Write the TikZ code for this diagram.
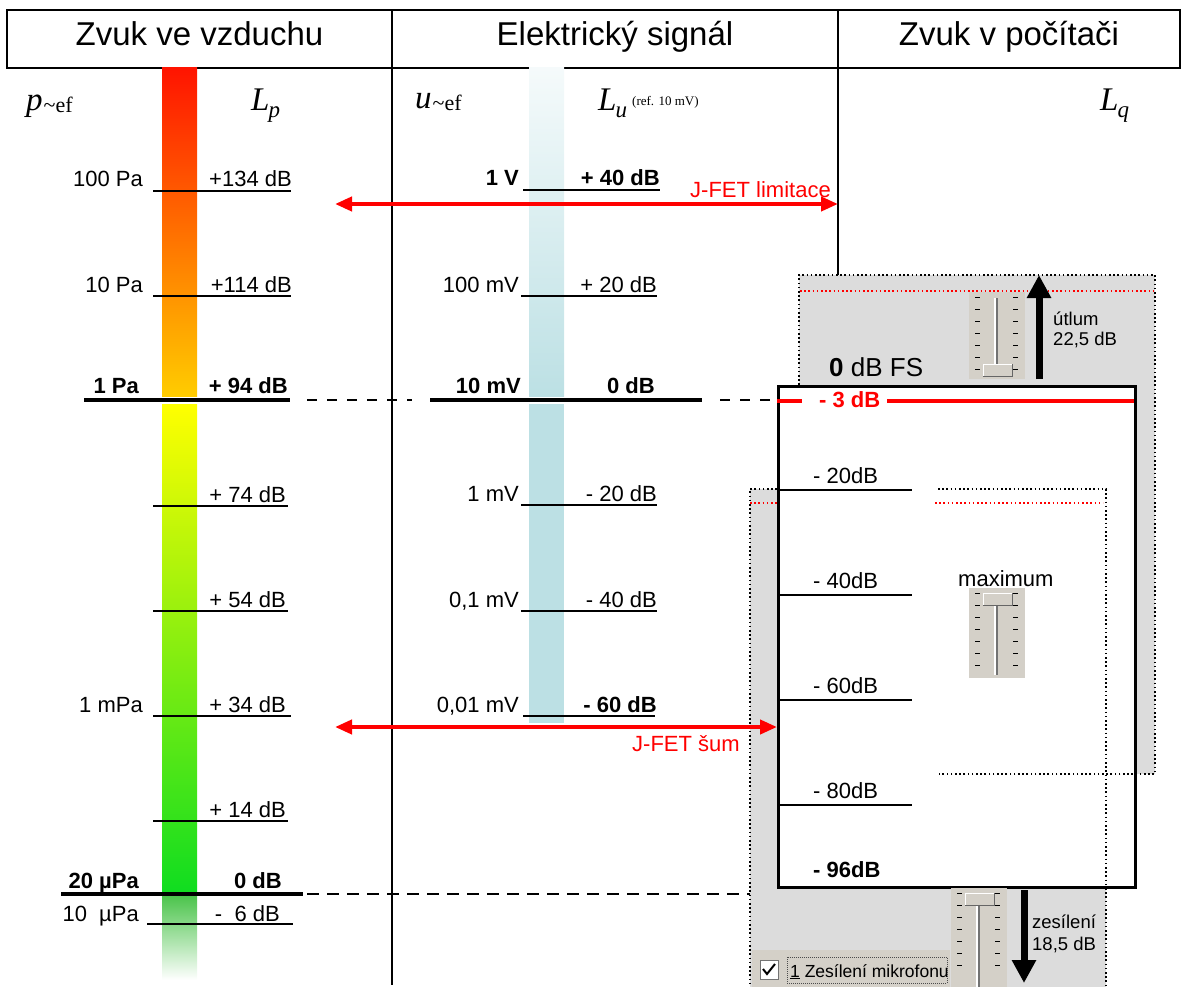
\documentclass[tikz,border=0pt]{standalone}
\usepackage{fontspec}
\setmainfont{Liberation Sans}
\newfontfamily\tms{Liberation Serif}
\usetikzlibrary{arrows.meta}
\definecolor{barred}{HTML}{FF1400}
\definecolor{barorange}{HTML}{FF8C00}
\definecolor{bargold}{HTML}{FFCC00}
\definecolor{barlime}{HTML}{C4F01A}
\definecolor{bargreen}{HTML}{10DD20}
\definecolor{barfade}{HTML}{4CC44C}
\definecolor{cyanbar}{HTML}{BCE0E4}
\definecolor{panelgray}{HTML}{DCDCDC}
\definecolor{wingray}{HTML}{D4D0C8}

% fader: track x, top, bottom, thumb top
\newcommand\fader[4]{%
  \fill[wingray] (#1-27,#2) rectangle (#1+29,#3);
  \foreach \k in {0,...,6}{
    \draw[line width=1pt] (#1-21,#2+5+12*\k) -- ++(5,0);
    \draw[line width=1pt] (#1+17,#2+5+12*\k) -- ++(5,0);
  }
  \draw[line width=1.5pt,white] (#1-1,#2+6) -- (#1-1,#3-3);
  \draw[line width=1.5pt,black!55] (#1+1,#2+6) -- (#1+1,#3-3);
  \fill[wingray] (#1-13,#4) rectangle (#1+16,#4+12);
  \draw[white,line width=1pt] (#1-13,#4+12) -- (#1-13,#4) -- (#1+16,#4);
  \draw[black!60,line width=1pt] (#1+16,#4) -- (#1+16,#4+12) -- (#1-13,#4+12);
}

\begin{document}
\begin{tikzpicture}[x=1pt,y=-1pt,
  hdr/.style={font=\fontsize{33}{36}\selectfont,anchor=base,inner sep=0pt},
  lbl/.style={font=\fontsize{22}{24}\selectfont,inner sep=0pt},
  blbl/.style={font=\fontsize{22}{24}\selectfont\bfseries,inner sep=0pt},
  small/.style={font=\fontsize{18.5}{20}\selectfont,inner sep=0pt,anchor=base west},
  qty/.style={inner sep=0pt,anchor=base west},
  tick/.style={line width=1.3pt},
  major/.style={line width=4pt},
  dashline/.style={line width=2.5pt,dash pattern=on 10pt off 10pt},
  dotline/.style={line width=1.6pt,dash pattern=on 1.6pt off 2.6pt},
  redarrow/.style={red,line width=4pt,{Triangle[length=17pt,width=14pt]}-{Triangle[length=17pt,width=14pt]}},
  bigarrow/.style={line width=7pt,-{Triangle[length=23pt,width=23pt]}}]
\useasboundingbox (0,0) rectangle (1183,987);

% header
\draw[line width=2pt] (7,10) rectangle (1180,68);
\draw[line width=2pt] (392,10) -- (392,68) (838,10) -- (838,68);
\node[hdr] (hdrair) at (199.5,46) {Zvuk ve vzduchu};
\node[hdr] (hdrsig) at (615,46) {Elektrický signál};
\node[hdr] (hdrpc) at (1009,46) {Zvuk v počítači};
\draw[line width=1.6pt] (392,68) -- (392,985);
\draw[line width=1.6pt] (838,68) -- (838,275);

% quantities
\node[qty] (pef) at (26,111) {\tms\fontsize{33}{33}\selectfont\itshape p\kern1pt\fontsize{22}{22}\selectfont\upshape\raisebox{-2pt}{\textasciitilde ef}};
\node[qty] (lp) at (251,111) {\tms\fontsize{33}{33}\selectfont\itshape L\kern-1pt\fontsize{23}{23}\selectfont\raisebox{-7pt}{p}};
\node[qty] (uef) at (415,109) {\tms\fontsize{33}{33}\selectfont\itshape u\kern1pt\fontsize{22}{22}\selectfont\upshape\raisebox{-2pt}{\textasciitilde ef}};
\node[qty] (lu) at (598,111) {\tms\fontsize{33}{33}\selectfont\itshape L\kern-1pt\fontsize{23}{23}\selectfont\raisebox{-7pt}{u}};
\node[qty,font=\tms\fontsize{13}{13}\selectfont] (luref) at (632,106) {(ref. 10 mV)};
\node[qty] (lq) at (1100,111) {\tms\fontsize{33}{33}\selectfont\itshape L\kern-1pt\fontsize{23}{23}\selectfont\raisebox{-7pt}{q}};

% colour bars
\shade[top color=barred,middle color=barorange,bottom color=bargold] (162,68) rectangle (197,396);
\shade[top color=yellow,middle color=barlime,bottom color=bargreen] (162,404) rectangle (197,892);
\shade[top color=barfade,bottom color=white] (162,896) rectangle (197,980);
\shade[top color=cyanbar!15,bottom color=cyanbar] (529,68) rectangle (564,396);
\fill[cyanbar] (529,404) rectangle (564,723);

% sound pressure scale
\foreach \y/\pa/\db/\e [count=\i] in {191/100 Pa/+134 dB/292, 296/10 Pa/+114 dB/292, 716/1 mPa/+ 34 dB/286}{
  \draw[tick] (153,\y) -- (291,\y);
  \node[lbl,anchor=base east] (pa\i) at (143,\y-4) {\pa};
  \node[lbl,anchor=base east] (lp\i) at (\e,\y-4) {\db};
}
\foreach \y/\db [count=\i] in {506/+ 74 dB, 611/+ 54 dB, 821/+ 14 dB}{
  \draw[tick] (153,\y) -- (288,\y);
  \node[lbl,anchor=base east] (lpx\i) at (286,\y-4) {\db};
}
\draw[major] (84,400) -- (290,400);
\node[blbl,anchor=base east] (paone) at (139,393) {1 Pa};
\node[blbl,anchor=base east] (lpref) at (288,393) {+ 94 dB};
\draw[major] (61,894) -- (303,894);
\node[blbl,anchor=base east] (pamin) at (139,888) {20 µPa};
\node[blbl,anchor=base east] (lpzero) at (282,888) {0 dB};
\draw[tick] (147,924) -- (293,924);
\node[lbl,anchor=base east] (pahalf) at (139,921) {10\ \ µPa};
\node[lbl,anchor=base east] (lphalf) at (280,921) {-\ \ 6 dB};

% voltage scale
\draw[tick] (523,190) -- (660,190);
\node[blbl,anchor=base east] (uvolt) at (519,186) {1 V};
\node[blbl,anchor=base east] (luvolt) at (660,186) {+ 40 dB};
\foreach \y/\u/\db [count=\i] in {296/100 mV/+ 20 dB, 505/1 mV/- 20 dB, 611/{0,1 mV}/- 40 dB}{
  \draw[tick] (521,\y) -- (657,\y);
  \node[lbl,anchor=base east] (u\i) at (519,\y-4) {\u};
  \node[lbl,anchor=base east] (lu\i) at (657,\y-4) {\db};
}
\draw[tick] (523,716) -- (655,716);
\node[lbl,anchor=base east] (unoise) at (519,712) {0,01 mV};
\node[blbl,anchor=base east] (lunoise) at (657,712) {- 60 dB};
\draw[major] (430,400) -- (702,400);
\node[blbl,anchor=base east] (uref) at (521,393) {10 mV};
\node[blbl,anchor=base east] (luref0) at (655,393) {0 dB};

% mixer panels
\fill[panelgray] (799,275) rectangle (1155,774);
\fill[panelgray] (750,489) rectangle (1106,990);
\node[draw,line width=3pt,fill=white,anchor=north west,inner sep=0pt,
  minimum width=357pt,minimum height=501pt] (fsbox) at (777,385) {};
\draw[dotline] (799,385) -- (799,275) -- (1155,275) -- (1155,774) -- (939,774);
\draw[dotline] (777,489) -- (750,489) -- (750,990);
\draw[dotline] (938,489) -- (1106,489) -- (1106,990);
\draw[dotline,red] (800,291) -- (1155,291);
\draw[dotline,red] (750,503) -- (777,503) (935,503) -- (1103,503);

% digital scale
\node[qty,font=\fontsize{26}{28}\selectfont] (fs0) at (829,376) {\textbf{0} dB FS};
\node[blbl,anchor=base west,red] (fs3) at (819,407) {- 3 dB};
\draw[red,line width=3.5pt] (777,401) -- (802,401) (887,401) -- (1134,401);
\foreach \y/\db [count=\i] in {490/- 20dB, 595/- 40dB, 700/- 60dB, 805/- 80dB}{
  \draw[tick] (777,\y) -- (912,\y);
  \node[lbl,anchor=base west] (lq\i) at (813,\y-7) {\db};
}
\node[blbl,anchor=base west] (lqmin) at (813,877) {- 96dB};

% faders
\fader{996}{292}{379}{364}
\node[lbl,anchor=base west] (maxtxt) at (958,586) {maximum};
\fader{996}{588}{678}{593}
\fader{978}{888}{992}{893}

\coordinate (upbase) at (1039,379);
\coordinate (uptip) at (1039,275);
\draw[bigarrow] (upbase) -- (uptip);
\node[small] (atten) at (1053,325) {útlum};
\node[small] (attenval) at (1053,345) {22,5 dB};
\coordinate (downbase) at (1024,890);
\coordinate (downtip) at (1024,983);
\draw[bigarrow] (downbase) -- (downtip);
\node[small] (gain) at (1032,928) {zesílení};
\node[small] (gainval) at (1032,950) {18,5 dB};

% microphone boost check box
\fill[wingray] (752,950) rectangle (950,990);
\draw[black!55,fill=white,line width=1pt] (760,960) rectangle (778,979);
\draw[line width=2pt] (763,969) -- (767,974) -- (775,964);
\begin{scope}
  \clip (752,950) rectangle (947,990);
  \node[qty,font=\fontsize{17.5}{18}\selectfont] (micboost) at (790,977) {\underline{1} Zesílení mikrofonu};
\end{scope}
\draw[black!70,line width=0.8pt,dash pattern=on 1pt off 1pt] (787,957) rectangle (947,983);

% reference levels
\coordinate (dashA) at (307,400);
\draw[dashline] (dashA) -- (412,400);
\coordinate (dashB) at (720,400);
\draw[dashline] (dashB) -- (dashB -| fsbox.west);
\coordinate (dashC) at (307,894);
\draw[dashline,dash pattern=on 12pt off 8pt] (dashC) -- (750,894);

% J-FET limits
\coordinate (limL) at (335,204);
\coordinate (limR) at (838,204);
\draw[redarrow] (limL) -- (limR);
\node[lbl,anchor=base west,red] (limtxt) at (690,198) {J-FET limitace};
\coordinate (noiseL) at (335,727);
\draw[redarrow] (noiseL) -- (noiseL -| fsbox.west);
\node[lbl,anchor=base west,red] (noisetxt) at (632,751) {J-FET šum};
\end{tikzpicture}
\end{document}
